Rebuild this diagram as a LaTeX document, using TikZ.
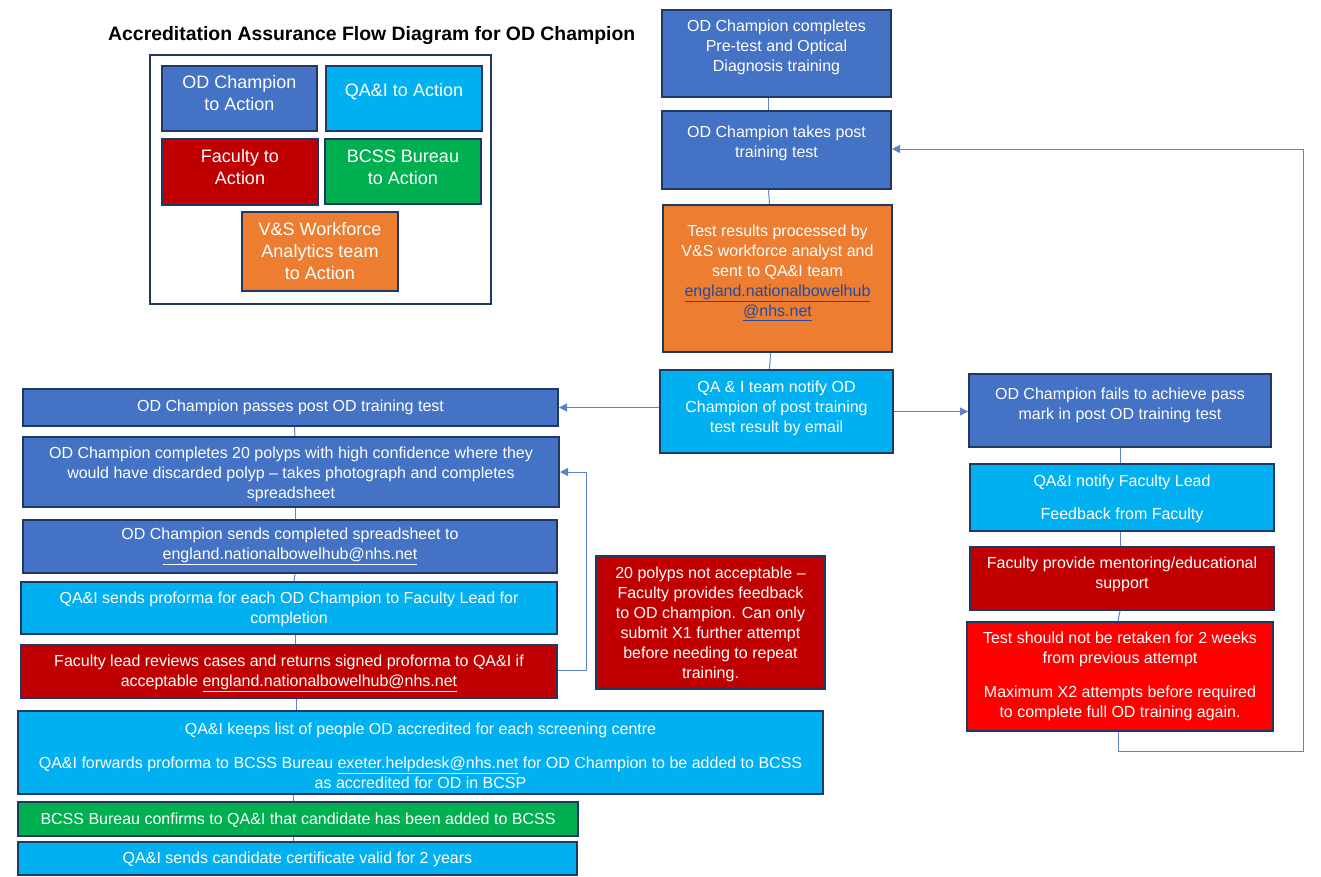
\documentclass[tikz,border=0pt]{standalone}
\usepackage{fontspec}
\setmainfont{Liberation Sans}
\usetikzlibrary{arrows.meta}
\definecolor{cblue}{RGB}{68,114,196}
\definecolor{ccyan}{RGB}{0,176,240}
\definecolor{cdred}{RGB}{192,0,0}
\definecolor{cgreen}{RGB}{0,176,80}
\definecolor{corange}{RGB}{237,125,49}
\definecolor{cred}{RGB}{255,0,0}
\definecolor{cnavy}{RGB}{31,56,100}
\definecolor{cline}{RGB}{90,130,205}
\definecolor{clink}{RGB}{35,75,160}
\tikzset{
 box/.style={draw=cnavy, line width=2pt, inner sep=0pt, rectangle},
 txt/.style={text=white, align=center, inner sep=0pt, font=\fontsize{16}{20}\selectfont},
 ltxt/.style={text=white, align=center, inner sep=0pt, font=\fontsize{18}{22}\selectfont},
 conn/.style={draw=cline, line width=1pt},
 arr/.style={conn, -{Triangle[length=8pt,width=8pt]}},
}
\begin{document}
\begin{tikzpicture}[x=1pt,y=-1pt]
\useasboundingbox (0,0) rectangle (1321,876);
% title
\node[anchor=west, inner sep=0pt, font=\fontsize{19.4}{22}\selectfont\bfseries] (title) at (108,36) {Accreditation Assurance Flow Diagram for OD Champion};
% legend
\node[draw=cnavy, line width=2pt, minimum width=341pt, minimum height=249pt, inner sep=0pt] (legend) at (320.5,179.5) {};
\node[box, fill=cblue, minimum width=155pt, minimum height=65pt] (lg1) at (239.5,98.5) {};
\node[ltxt] (lg1t) at (239.5,93) {OD Champion\\to Action};
\node[box, fill=ccyan, minimum width=156pt, minimum height=65pt] (lg2) at (404,98.5) {};
\node[ltxt] (lg2t) at (404,92) {QA\&I to Action};
\node[box, fill=cdred, minimum width=156pt, minimum height=66pt] (lg3) at (240,172) {};
\node[ltxt] (lg3t) at (240,167) {Faculty to\\Action};
\node[box, fill=cgreen, minimum width=156pt, minimum height=65pt] (lg4) at (403,171.5) {};
\node[ltxt] (lg4t) at (403,167) {BCSS Bureau\\to Action};
\node[box, fill=corange, minimum width=156pt, minimum height=79pt] (lg5) at (320,251.5) {};
\node[ltxt] (lg5t) at (320,251) {V\&S Workforce\\Analytics team\\to Action};
% centre column
\node[box, fill=cblue, minimum width=229pt, minimum height=87pt] (a1) at (776.5,53.5) {};
\node[txt] (a1t) at (776.5,47) {OD Champion completes\\Pre-test and Optical\\Diagnosis training};
\node[box, fill=cblue, minimum width=229pt, minimum height=78pt] (a2) at (776.5,150) {};
\node[txt] (a2t) at (776.5,143) {OD Champion takes post\\training test};
\node[box, fill=corange, minimum width=229pt, minimum height=147pt] (a3) at (777.5,278.5) {};
\node[txt] (a3t) at (777.5,272.5) {Test results processed by\\V\&S workforce analyst and\\sent to QA\&I team\\\textcolor{clink}{\underline{england.nationalbowelhub}}\\\textcolor{clink}{\underline{@nhs.net}}};
\node[box, fill=ccyan, minimum width=233pt, minimum height=83pt] (a4) at (776.5,411.5) {};
\node[txt] (a4t) at (776.5,408) {QA \& I team notify OD\\Champion of post training\\test result by email};
% right column
\node[box, fill=cblue, minimum width=302pt, minimum height=73pt] (r1) at (1120,410.5) {};
\node[txt] (r1t) at (1120,405) {OD Champion fails to achieve pass\\mark in post OD training test};
\node[box, fill=ccyan, minimum width=304pt, minimum height=67pt] (r2) at (1122,497.5) {};
\node[txt] (r2t) at (1122,498.5) {QA\&I notify Faculty Lead\\[13pt]Feedback from Faculty};
\node[box, fill=cdred, minimum width=304pt, minimum height=63pt] (r3) at (1122,578.5) {};
\node[txt] (r3t) at (1122,574.5) {Faculty provide mentoring/educational\\support};
\node[box, fill=cred, minimum width=306pt, minimum height=109pt] (r4) at (1120,676.5) {};
\node[txt] (r4t) at (1120,676) {Test should not be retaken for 2 weeks\\from previous attempt\\[14pt]Maximum X2 attempts before required\\to complete full OD training again.};
% left column
\node[box, fill=cblue, minimum width=535pt, minimum height=37pt] (l1) at (290.5,407.5) {};
\node[txt] (l1t) at (290.5,407.5) {OD Champion passes post OD training test};
\node[box, fill=cblue, minimum width=536pt, minimum height=70pt] (l2) at (291,472) {};
\node[txt] (l2t) at (291,474.5) {OD Champion completes 20 polyps with high confidence where they\\would have discarded polyp -- takes photograph and completes\\spreadsheet};
\node[box, fill=cblue, minimum width=534pt, minimum height=53pt] (l3) at (290,546.5) {};
\node[txt] (l3t) at (290,546.5) {OD Champion sends completed spreadsheet to\\\underline{england.nationalbowelhub@nhs.net}};
\node[box, fill=ccyan, minimum width=536pt, minimum height=52pt] (l4) at (289,608) {};
\node[txt] (l4t) at (289,609.5) {QA\&I sends proforma for each OD Champion to Faculty Lead for\\completion};
\node[box, fill=cdred, minimum width=536pt, minimum height=53pt] (l5) at (289,671.5) {};
\node[txt] (l5t) at (289,673) {Faculty lead reviews cases and returns signed proforma to QA\&I if\\acceptable \underline{england.nationalbowelhub@nhs.net}};
% middle note
\node[box, fill=cdred, minimum width=229pt, minimum height=133pt] (m) at (710.5,622.5) {};
\node[txt] (mt) at (710.5,624) {20 polyps not acceptable --\\Faculty provides feedback\\to OD champion. Can only\\submit X1 further attempt\\before needing to repeat\\training.};
% bottom
\node[box, fill=ccyan, minimum width=805pt, minimum height=83pt] (b1) at (420.5,752.5) {};
\node[txt] (b1t) at (420.5,756) {QA\&I keeps list of people OD accredited for each screening centre\\[14pt]QA\&I forwards proforma to BCSS Bureau \underline{exeter.helpdesk@nhs.net} for OD Champion to be added to BCSS\\as accredited for OD in BCSP};
\node[box, fill=cgreen, minimum width=560pt, minimum height=34pt] (b2) at (298,819) {};
\node[txt] (b2t) at (298,820) {BCSS Bureau confirms to QA\&I that candidate has been added to BCSS};
\node[box, fill=ccyan, minimum width=559pt, minimum height=33pt] (b3) at (297.5,858.5) {};
\node[txt] (b3t) at (297.5,859) {QA\&I sends candidate certificate valid for 2 years};
% connectors centre
\draw[conn] ([xshift=-8]a1.south) -- ([xshift=-8]a2.north);
\draw[conn] ([xshift=-8]a2.south) -- ([xshift=-8]a3.north);
\draw[conn] ([xshift=-7]a3.south) -- ([xshift=-7]a4.north);
\draw[arr] (a4.west |- l1.east) -- (l1.east);
\draw[arr] (a4.east) -- (a4.east -| r1.west);
% right column connectors
\draw[conn] (r1.south) -- (r1.south |- r2.north);
\draw[conn] (r1.south |- r2.south) -- (r1.south |- r3.north);
\draw[conn] ([xshift=-2]r3.south) -- ([xshift=-2]r4.north);
\coordinate (lp1) at (1118,751);
\coordinate (lp2) at (1303,751);
\coordinate (lp3) at (1303,149);
\draw[arr] (r4.south -| lp1) -- (lp1) -- (lp2) -- (lp3) -- (lp3 -| a2.east);
% left column connectors
\draw[conn] ([xshift=4]l1.south) -- ([xshift=4]l2.north);
\draw[conn] ([xshift=4]l2.south) -- ([xshift=5]l3.north);
\draw[conn] ([xshift=5]l3.south) -- ([xshift=5]l4.north);
\draw[conn] ([xshift=6]l4.south) -- ([xshift=6]l5.north);
\draw[conn] ([xshift=7]l5.south) -- ([xshift=7]l5.south |- b1.north);
\draw[conn] ([xshift=-5]b1.south -| b2.north) -- ([xshift=-5]b2.north);
\draw[conn] ([xshift=-5]b2.south) -- ([xshift=-4.5]b3.north);
\coordinate (ll1) at (586,670);
\coordinate (ll2) at (586,472);
\draw[arr] (l5.east |- ll1) -- (ll1) -- (ll2) -- (l2.east |- ll2);
\end{tikzpicture}
\end{document}
